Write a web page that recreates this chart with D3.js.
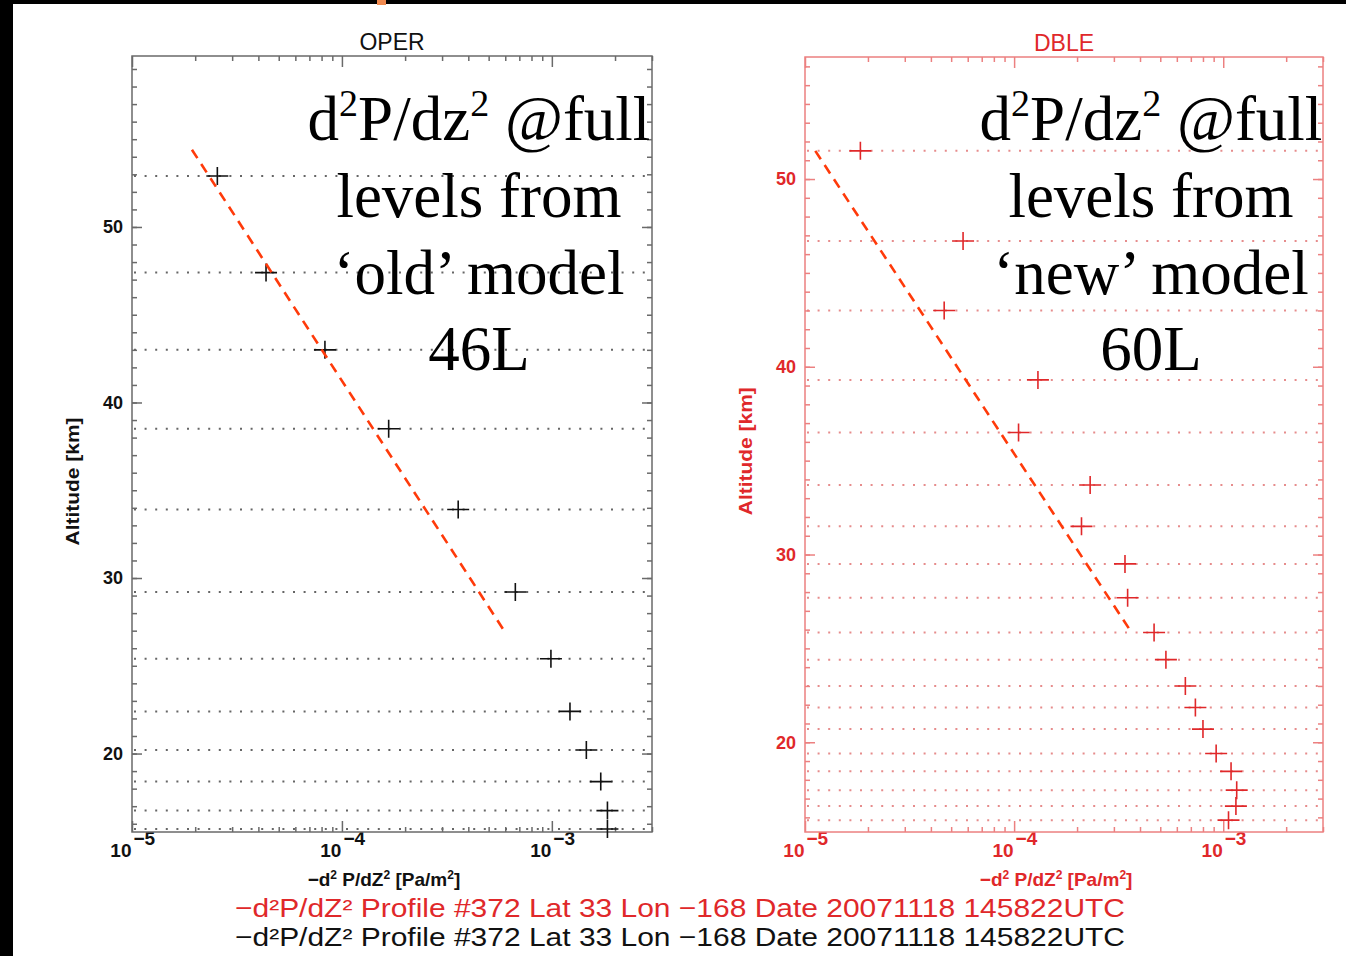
<!DOCTYPE html>
<html><head><meta charset="utf-8">
<script src="https://cdn.jsdelivr.net/npm/d3@7"></script>
<style>
  body { margin: 0; background: #fff; }
  svg { display: block; }
</style>
</head><body>
<svg id="c" width="1346" height="956"></svg>
<script>
// OPER profile (46-level model): altitude of full levels [km] and -d2P/dZ2 [Pa/m^2]
const operAlt = [52.9, 47.4, 43.0, 38.5, 33.9, 29.2, 25.4, 22.4, 20.2, 18.4, 16.75, 15.7];
const operVal = [2.55e-5, 4.35e-5, 8.3e-5, 1.67e-4, 3.58e-4, 6.7e-4, 9.9e-4, 1.22e-3, 1.46e-3, 1.71e-3, 1.84e-3, 1.84e-3];

// DBLE profile (60-level model)
const dbleAlt = [51.5, 46.7, 43.0, 39.3, 36.5, 33.7, 31.5, 29.5, 27.7, 25.85, 24.4, 23.0, 21.85, 20.7, 19.4, 18.45, 17.45, 16.6, 15.85];
const dbleVal = [1.84e-5, 5.7e-5, 4.63e-5, 1.3e-4, 1.05e-4, 2.31e-4, 2.1e-4, 3.39e-4, 3.49e-4, 4.67e-4, 5.32e-4, 6.59e-4, 7.36e-4, 8.0e-4, 9.25e-4, 1.09e-3, 1.16e-3, 1.15e-3, 1.06e-3];

// dashed guide lines (value, altitude at both ends)
const operGuideVal = [1.93e-5, 5.85e-4];
const operGuideAlt = [54.4, 27.1];
const dbleGuideVal = [1.12e-5, 3.57e-4];
const dbleGuideAlt = [51.5, 26.0];

// axis ticks
const xMajorTicks = [1e-5, 1e-4, 1e-3];
const yMajorTicks = [20, 30, 40, 50];

// annotation text lines
const operNote = ["levels from", "\u2018old\u2019 model", "46L"];
const dbleNote = ["levels from", "\u2018new\u2019 model", "60L"];
const footer = "\u2212d\u00b2P/dZ\u00b2  Profile #372 Lat 33 Lon \u2212168 Date 20071118 145822UTC";

const svg = d3.select("#c");
svg.append("rect").attr("width", 1346).attr("height", 956).attr("fill", "#fff");

function panel(cfg) {
  const g = svg.append("g");
  const x = d3.scaleLog().domain([1e-5, 3e-3]).range([cfg.x0, cfg.x1]);
  const y = d3.scaleLinear().domain(cfg.yDomain).range([cfg.y1, cfg.y0]);

  // dotted lines marking each model level
  g.append("g").selectAll("line").data(cfg.alt).join("line")
    .attr("x1", cfg.x0 + 2).attr("x2", cfg.x1 - 2)
    .attr("y1", d => y(d)).attr("y2", d => y(d))
    .attr("stroke", cfg.grid).attr("stroke-width", 2)
    .attr("stroke-dasharray", "2,8.6");

  // minor tick values
  const xMinor = [];
  for (const dec of [1e-5, 1e-4, 1e-3]) for (let m = 2; m <= 9; m++) {
    const v = m * dec; if (v <= 3e-3) xMinor.push(v);
  }
  const yMinor = d3.range(Math.ceil(cfg.yDomain[0]), Math.floor(cfg.yDomain[1]) + 1);

  const styleAxis = sel => {
    sel.select(".domain").remove();
    sel.selectAll(".tick line").attr("stroke", cfg.frame).attr("stroke-width", 1.5);
  };

  // left axis: labels + major ticks, minor ticks
  g.append("g").attr("transform", `translate(${cfg.x0},0)`)
    .call(d3.axisLeft(y).tickValues(yMinor).tickSize(-5).tickFormat(""))
    .call(styleAxis);
  g.append("g").attr("transform", `translate(${cfg.x0},0)`)
    .call(d3.axisLeft(y).tickValues(yMajorTicks).tickSize(-10).tickPadding(9).tickFormat(d3.format("d")))
    .call(styleAxis)
    .call(s => s.selectAll(".tick text").attr("fill", cfg.ink)
      .attr("font-family", "Liberation Sans, Arial, sans-serif").attr("font-size", 18).attr("font-weight", "bold"));
  // right axis ticks
  g.append("g").attr("transform", `translate(${cfg.x1},0)`)
    .call(d3.axisRight(y).tickValues(yMinor).tickSize(-5).tickFormat(""))
    .call(styleAxis);
  g.append("g").attr("transform", `translate(${cfg.x1},0)`)
    .call(d3.axisRight(y).tickValues(yMajorTicks).tickSize(-10).tickFormat(""))
    .call(styleAxis);

  // bottom axis
  g.append("g").attr("transform", `translate(0,${cfg.y1})`)
    .call(d3.axisBottom(x).tickValues(xMinor).tickSize(-5).tickFormat(""))
    .call(styleAxis);
  const bx = g.append("g").attr("transform", `translate(0,${cfg.y1})`)
    .call(d3.axisBottom(x).tickValues(xMajorTicks).tickSize(-11).tickFormat(""))
    .call(styleAxis);
  bx.selectAll(".tick").each(function (d) {
    const t = d3.select(this);
    const e = Math.round(Math.log10(d));
    t.append("text").attr("x", -1).attr("y", 25).attr("text-anchor", "end")
      .attr("fill", cfg.ink).attr("font-family", "Liberation Sans, Arial, sans-serif")
      .attr("font-size", 19).attr("font-weight", "bold").text("10");
    t.append("text").attr("x", 1).attr("y", 13).attr("text-anchor", "start")
      .attr("fill", cfg.ink).attr("font-family", "Liberation Sans, Arial, sans-serif")
      .attr("font-size", 19).attr("font-weight", "bold").text("\u2212" + Math.abs(e));
  });
  // top axis ticks
  g.append("g").attr("transform", `translate(0,${cfg.y0})`)
    .call(d3.axisTop(x).tickValues(xMinor).tickSize(-5).tickFormat(""))
    .call(styleAxis);
  g.append("g").attr("transform", `translate(0,${cfg.y0})`)
    .call(d3.axisTop(x).tickValues(xMajorTicks).tickSize(-11).tickFormat(""))
    .call(styleAxis);

  // frame
  g.append("rect").attr("x", cfg.x0).attr("y", cfg.y0)
    .attr("width", cfg.x1 - cfg.x0).attr("height", cfg.y1 - cfg.y0)
    .attr("fill", "none").attr("stroke", cfg.frame).attr("stroke-width", 1.5);

  // data crosses
  g.append("g").selectAll("path").data(cfg.alt.map((a, i) => [cfg.val[i], a])).join("path")
    .attr("d", d => `M${x(d[0]) - 11},${y(d[1])}h22M${x(d[0])},${y(d[1]) - 9}v18`)
    .attr("stroke", cfg.ink).attr("stroke-width", 1.6).attr("fill", "none");

  // title
  g.append("text").attr("x", (cfg.x0 + cfg.x1) / 2).attr("y", cfg.y0 - 6)
    .attr("text-anchor", "middle").attr("fill", cfg.ink)
    .attr("font-family", "Liberation Sans, Arial, sans-serif").attr("font-size", 23)
    .text(cfg.title);

  // axis titles
  g.append("text").attr("transform", `translate(${cfg.x0 - 53},${y(35.5)}) rotate(-90)`)
    .attr("text-anchor", "middle").attr("fill", cfg.ink)
    .attr("font-family", "Liberation Sans, Arial, sans-serif").attr("font-size", 18)
    .attr("font-weight", "bold").attr("textLength", 128).attr("lengthAdjust", "spacingAndGlyphs")
    .text("Altitude [km]");
  const xt = g.append("text").attr("x", x(1e-4) + 42).attr("y", cfg.y1 + 54)
    .attr("text-anchor", "middle").attr("fill", cfg.ink)
    .attr("font-family", "Liberation Sans, Arial, sans-serif").attr("font-size", 19)
    .attr("font-weight", "bold");
  xt.append("tspan").text("\u2212d");
  xt.append("tspan").attr("font-size", 12).attr("dy", -7).text("2");
  xt.append("tspan").attr("dy", 7).text(" P/dZ");
  xt.append("tspan").attr("font-size", 12).attr("dy", -7).text("2");
  xt.append("tspan").attr("dy", 7).text("  [Pa/m");
  xt.append("tspan").attr("font-size", 12).attr("dy", -7).text("2");
  xt.append("tspan").attr("dy", 7).text("]");

  // dashed guide line
  g.append("line")
    .attr("x1", x(cfg.guideVal[0])).attr("y1", y(cfg.guideAlt[0]))
    .attr("x2", x(cfg.guideVal[1])).attr("y2", y(cfg.guideAlt[1]))
    .attr("stroke", "#ff3a0a").attr("stroke-width", 2.6).attr("stroke-dasharray", "10,7");

  // annotation
  const cx = cfg.noteX;
  const serif = "Liberation Serif, 'Times New Roman', serif";
  const t1 = g.append("text").attr("x", cx).attr("y", 140).attr("text-anchor", "middle")
    .attr("font-family", serif).attr("font-size", 63).attr("fill", "#000");
  t1.append("tspan").text("d");
  t1.append("tspan").attr("font-size", 38).attr("dy", -24).text("2");
  t1.append("tspan").attr("dy", 24).text("P/dz");
  t1.append("tspan").attr("font-size", 38).attr("dy", -24).text("2");
  t1.append("tspan").attr("dy", 24).text(" @full");
  cfg.note.forEach((s, i) => {
    g.append("text").attr("x", cx).attr("y", 217 + i * 76.5).attr("text-anchor", "middle")
      .attr("font-family", serif).attr("font-size", 63).attr("fill", "#000").text(s);
  });
}

panel({
  x0: 132, x1: 652, y0: 56, y1: 832, yDomain: [15.53, 59.74],
  alt: operAlt, val: operVal, guideVal: operGuideVal, guideAlt: operGuideAlt,
  title: "OPER", ink: "#111", frame: "#6a6a6a", grid: "#666",
  note: operNote, noteX: 479
});
panel({
  x0: 805, x1: 1323, y0: 57, y1: 832, yDomain: [15.22, 56.5],
  alt: dbleAlt, val: dbleVal, guideVal: dbleGuideVal, guideAlt: dbleGuideAlt,
  title: "DBLE", ink: "#e0282a", frame: "#ec8080", grid: "#e68c8c",
  note: dbleNote, noteX: 1151
});

// footer lines
[["#e0282a", 917], ["#111", 946]].forEach(([c, yy]) => {
  svg.append("text").attr("x", 235).attr("y", yy)
    .attr("font-family", "Liberation Sans, Arial, sans-serif").attr("font-size", 26)
    .attr("fill", c).attr("textLength", 890).attr("lengthAdjust", "spacingAndGlyphs")
    .text(footer);
});

// page edges
svg.append("rect").attr("x", 0).attr("y", 0).attr("width", 1346).attr("height", 4).attr("fill", "#000");
svg.append("rect").attr("x", 0).attr("y", 0).attr("width", 13).attr("height", 956).attr("fill", "#000");
svg.append("rect").attr("x", 377).attr("y", 0).attr("width", 9).attr("height", 5).attr("fill", "#f08a50");
</script>
</body></html>
